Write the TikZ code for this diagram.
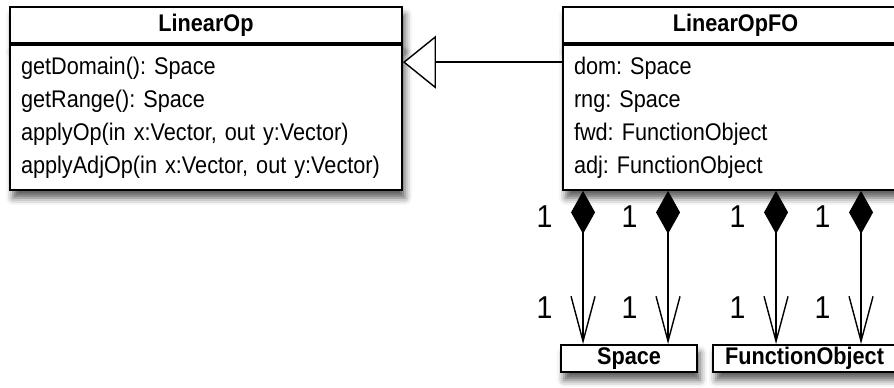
\documentclass[tikz,border=0pt]{standalone}
\usepackage{fontspec}
\setmainfont{Liberation Sans}[FakeStretch=0.9]
\usepackage{tikz}
\usetikzlibrary{arrows.meta, positioning, calc, shadows.blur}
\frenchspacing

\begin{document}
\begin{tikzpicture}[
    shd/.style={blur shadow={shadow xshift=0.06cm, shadow yshift=-0.16cm,
                shadow blur radius=0.14cm, shadow opacity=65}},
    ttl/.style={draw, fill=white, line width=1.1pt, shd, minimum height=0.72cm,
                inner sep=0pt, font=\fontsize{13.7}{16}\selectfont\bfseries},
    attrs/.style={draw, fill=white, line width=1.1pt, shd, minimum height=2.90cm,
                  inner xsep=0.22cm, inner ysep=0pt, align=left,
                  font=\fontsize{13.7}{18.8}\selectfont},
    ref/.style={draw, fill=white, line width=1.1pt, shd, minimum height=0.54cm,
                inner sep=0pt, font=\fontsize{13.7}{16}\selectfont\bfseries},
    gen/.style={-{Triangle[open, length=0.66cm, width=1.06cm, fill=white]}, line width=0.8pt},
    comp/.style={{Diamond[length=0.86cm, width=0.48cm]}-{Straight Barb[length=0.9cm, width=0.48cm]},
                 line width=0.8pt},
    mult/.style={inner sep=0pt, font=\fontsize{18}{20}\selectfont},
]
    \useasboundingbox (0, 0) rectangle (17.88, 7.74);
    \clip (0, 0) rectangle (17.88, 7.74);

    % Base class
    \node[ttl, minimum width=7.84cm] (lop) at (4.12, 7.24) {LinearOp};
    \node[attrs, text width=7.40cm, below=0pt of lop] (lopbody) {
        getDomain(): Space\\
        getRange(): Space\\
        applyOp(in x:Vector, out y:Vector)\\
        applyAdjOp(in x:Vector, out y:Vector)};

    % Derived class
    \node[ttl, minimum width=6.9cm] (fo) at (14.71, 7.24) {LinearOpFO};
    \node[attrs, text width=6.46cm, below=0pt of fo] (fobody) {
        dom: Space\\
        rng: Space\\
        fwd: FunctionObject\\
        adj: FunctionObject};

    % Referenced classes
    \node[ref, minimum width=2.72cm] (space) at (12.58, 0.57) {Space};
    \node[ref, minimum width=3.66cm] (fobj) at (16.09, 0.57) {FunctionObject};

    % Generalization
    \coordinate (fodom) at ($(fobody.north west)!0.124!(fobody.south west)$);
    \draw[gen] (fodom) -- (fodom -| lopbody.east);

    % Compositions
    \draw[comp] ([xshift=0.42cm]fobody.south west) coordinate (c1) -- (c1 |- space.north)
        node[mult, pos=0.17, left=0.6cm] {1} node[mult, pos=0.76, left=0.6cm] {1};
    \draw[comp] ([xshift=2.12cm]fobody.south west) coordinate (c2) -- (c2 |- space.north)
        node[mult, pos=0.17, left=0.6cm] {1} node[mult, pos=0.76, left=0.6cm] {1};
    \draw[comp] ([xshift=4.28cm]fobody.south west) coordinate (c3) -- (c3 |- fobj.north)
        node[mult, pos=0.17, left=0.6cm] {1} node[mult, pos=0.76, left=0.6cm] {1};
    \draw[comp] ([xshift=5.98cm]fobody.south west) coordinate (c4) -- (c4 |- fobj.north)
        node[mult, pos=0.17, left=0.6cm] {1} node[mult, pos=0.76, left=0.6cm] {1};
\end{tikzpicture}
\end{document}
